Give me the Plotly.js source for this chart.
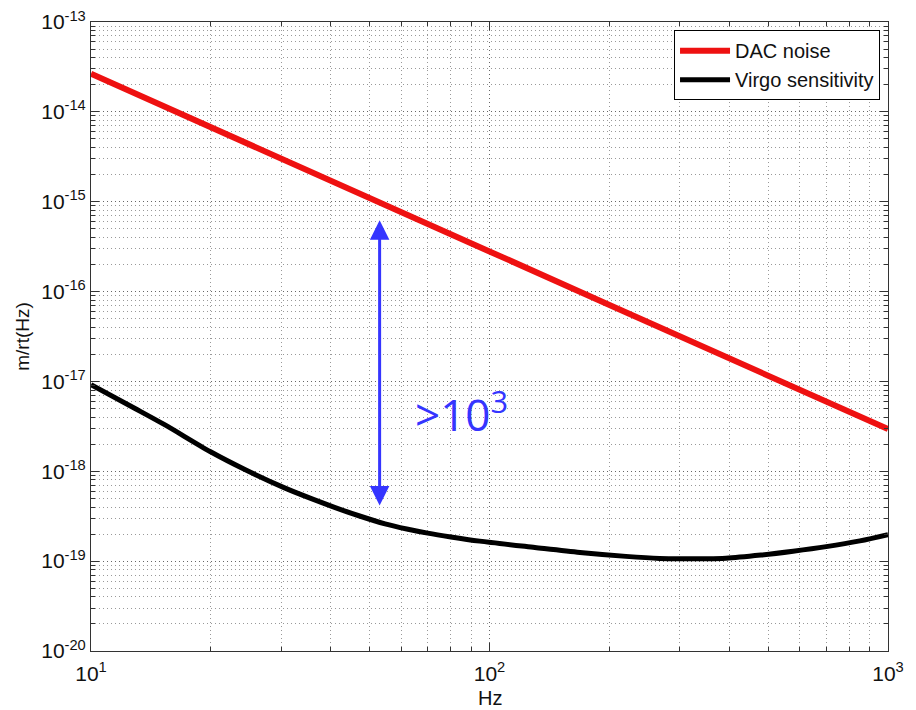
<!DOCTYPE html>
<html>
<head>
<meta charset="utf-8">
<script src="https://cdn.plot.ly/plotly-3.0.1.min.js"></script>
<style>body{margin:0;padding:0;background:#fff}#chart{width:916px;height:710px}</style>
</head>
<body>
<div id="chart"></div>
<script>
// DAC noise (m/rtHz)
const dacFreq = [10, 20, 50, 100, 200, 500, 1000];
const dacNoise = [2.65e-14, 6.8e-15, 1.1e-15, 2.8e-16, 7.1e-17, 1.15e-17, 2.95e-18];

// Virgo sensitivity
const virgoFreq = [10, 12.9, 15.3, 19.9, 24.4, 30.7, 36, 41, 47, 54.7, 62, 70, 80, 94.5, 130, 168.7, 220, 267, 300, 392, 480, 578, 700, 850, 1000];
const virgoSens = [9.2e-18, 5.0e-18, 3.3e-18, 1.66e-18, 1.04e-18, 6.5e-19, 4.9e-19, 3.95e-19, 3.2e-19, 2.6e-19, 2.28e-19, 2.05e-19, 1.86e-19, 1.67e-19, 1.42e-19, 1.25e-19, 1.13e-19, 1.07e-19, 1.06e-19, 1.08e-19, 1.17e-19, 1.29e-19, 1.45e-19, 1.68e-19, 1.97e-19];

// Tick labels
const xTickVals = [10, 100, 1000];
const xTickText = ['10<sup>1</sup>', '10<sup>2</sup>', '10<sup>3</sup>'];
const yTickVals = [1e-20, 1e-19, 1e-18, 1e-17, 1e-16, 1e-15, 1e-14, 1e-13];
const yTickText = ['10<sup>-20</sup>', '10<sup>-19</sup>', '10<sup>-18</sup>', '10<sup>-17</sup>', '10<sup>-16</sup>', '10<sup>-15</sup>', '10<sup>-14</sup>', '10<sup>-13</sup>'];
const xTitle = 'Hz';
const yTitle = 'm/rt(Hz)';

// Annotation: margin arrow and label
const arrowFreq = 53;
const arrowTop = 6.2e-16;
const arrowBottom = 4.0e-19;
const labelFreq = 85;
const labelLevel = 4.6e-18;

const FONT = 'Liberation Sans, Arial, Helvetica, sans-serif';

const traces = [
  {x: dacFreq, y: dacNoise, type: 'scatter', mode: 'lines', name: 'DAC noise',
   line: {color: '#ee1111', width: 6}},
  {x: virgoFreq, y: virgoSens, type: 'scatter', mode: 'lines', name: 'Virgo sensitivity',
   line: {color: '#000000', width: 5, shape: 'spline', smoothing: 0.8}}
];

const axisCommon = {
  type: 'log',
  showline: true, linecolor: '#333', linewidth: 1, mirror: 'allticks',
  ticks: 'inside', ticklen: 8, tickcolor: '#333',
  showgrid: true, gridcolor: '#666', griddash: '1px,3px', gridwidth: 1,
  zeroline: false,
  tickfont: {family: FONT, size: 21, color: '#111'},
  minor: {ticks: 'inside', ticklen: 4, tickcolor: '#333', showgrid: true, gridcolor: '#999', griddash: '1px,3px', gridwidth: 1, dtick: 'D1'}
};

const layout = {
  width: 916, height: 710,
  margin: {l: 91, r: 28, t: 22, b: 59},
  paper_bgcolor: '#fff', plot_bgcolor: '#fff',
  showlegend: true,
  legend: {x: 0.99, y: 0.987, xanchor: 'right', yanchor: 'top',
           bgcolor: '#fff', bordercolor: '#000', borderwidth: 1,
           font: {family: FONT, size: 20, color: '#111'},
           tracegroupgap: 0, itemwidth: 50},
  xaxis: Object.assign({}, axisCommon, {
    range: [1, 3], tickvals: xTickVals, ticktext: xTickText, ticklabelstandoff: 4,
    automargin: false
  }),
  yaxis: Object.assign({}, axisCommon, {
    range: [-20, -13], tickvals: yTickVals, ticktext: yTickText,
    automargin: false,
    title: {text: yTitle, font: {family: FONT, size: 19, color: '#111'}, standoff: 6}
  }),
  annotations: [
    {x: 0.5, y: 0, xref: 'paper', yref: 'paper', yshift: -47, showarrow: false,
     text: xTitle, xanchor: 'center', yanchor: 'middle',
     font: {family: FONT, size: 20, color: '#111'}},
    {x: Math.log10(arrowFreq), y: Math.log10(arrowTop), ax: Math.log10(arrowFreq), ay: Math.log10(arrowBottom),
     xref: 'x', yref: 'y', axref: 'x', ayref: 'y', text: '', showarrow: true,
     arrowhead: 2, startarrowhead: 2, arrowside: 'end+start', arrowsize: 1.3, startarrowsize: 1.3,
     arrowwidth: 3, arrowcolor: '#3535ff'},
    {x: Math.log10(labelFreq), y: Math.log10(labelLevel), xref: 'x', yref: 'y', showarrow: false,
     text: '>10<sup>3</sup>', xanchor: 'center', yanchor: 'middle',
     font: {family: 'Open Sans, sans-serif', size: 44, color: '#3535ff'}}
  ]
};

Plotly.newPlot('chart', traces, layout, {displayModeBar: false, staticPlot: true});
</script>
</body>
</html>
